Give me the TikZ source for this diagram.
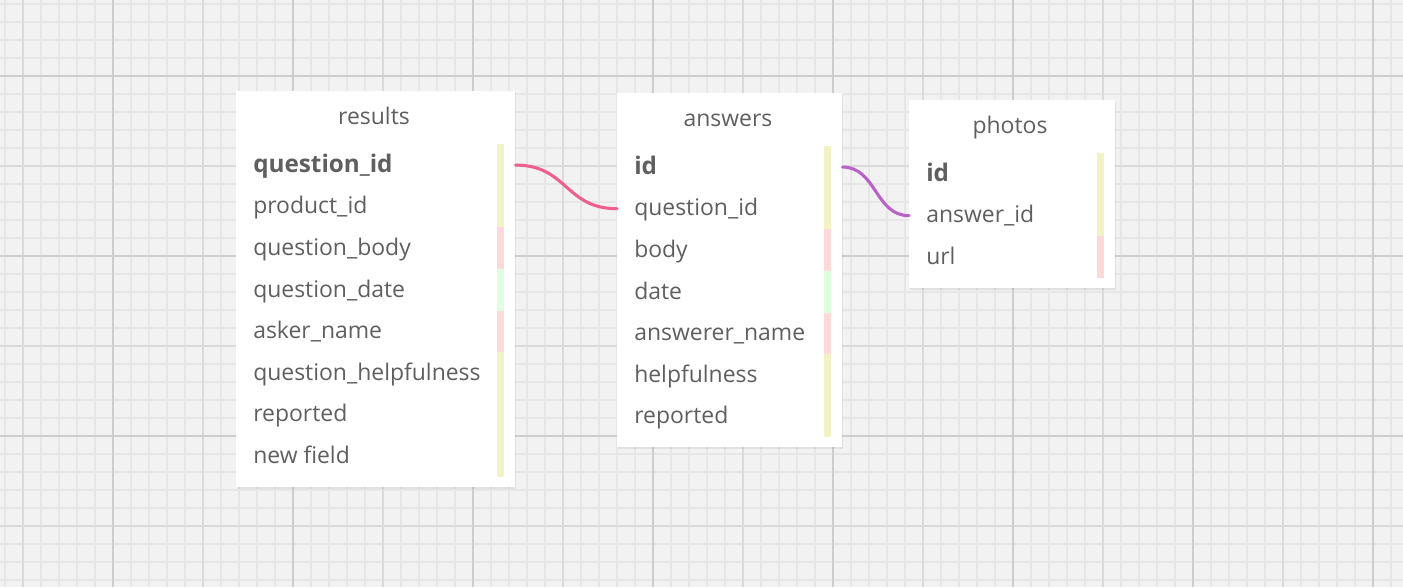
\documentclass[tikz,border=0pt]{standalone}
\usepackage{fontspec}
\setmainfont{Open Sans}
\usetikzlibrary{shadows}

\definecolor{gridbg}{HTML}{F2F2F2}
\definecolor{gridminor}{HTML}{E6E6E6}
\definecolor{gridmid}{HTML}{DADADA}
\definecolor{gridmajor}{HTML}{CDCDCD}
\definecolor{fieldtext}{HTML}{5F5F5F}
\definecolor{keyyellow}{HTML}{F3F2C4}
\definecolor{keypink}{HTML}{FFD9D9}
\definecolor{keygreen}{HTML}{DEFFDE}
\definecolor{linkpink}{HTML}{EE5F8F}
\definecolor{linkpurple}{HTML}{BA60C9}

\begin{document}
\begin{tikzpicture}[x=0.75pt, y=-0.75pt,
    tablebox/.style={fill=white, draw=none, inner sep=0pt, anchor=north west,
        drop shadow={opacity=0.15, shadow xshift=0.8pt, shadow yshift=-1.2pt}},
    tabletitle/.style={text=fieldtext, font=\fontsize{17.2}{20}\selectfont, anchor=base, inner sep=0pt},
    field/.style={text=fieldtext, font=\fontsize{17.2}{20}\selectfont, anchor=base west, inner sep=0pt},
    fieldkey/.style={field, font=\fontsize{18.2}{20}\selectfont\bfseries},
    keybar/.style={draw=none, inner sep=0pt, anchor=north west,
        minimum width=7*0.75pt, minimum height=41.6*0.75pt},
    link/.style={line width=2.3pt, line cap=round}]

    % row height of every table, in px
    \pgfmathsetmacro{\rowh}{41.6}
    % baseline of a field below the middle of its row, in px
    \pgfmathsetmacro{\basey}{7.5}

    \useasboundingbox (0,0) rectangle (1403,587);

    % Paper grid in the background: minor, middle and major lines
    \fill[gridbg] (0,0) rectangle (1403,587);
    \begin{scope}[gridminor, line width=1.2pt]
        \foreach \gx in {5,23,...,1403}
            \draw (\gx,0) -- (\gx,587);
        \foreach \gy in {4,22,...,587}
            \draw (0,\gy) -- (1403,\gy);
    \end{scope}
    \begin{scope}[gridmid, line width=1.2pt]
        \foreach \gx in {23,203,...,1403}
            \draw (\gx,0) -- (\gx,587);
        \foreach \gy in {166,346,526}
            \draw (0,\gy) -- (1403,\gy);
    \end{scope}
    \begin{scope}[gridmajor, line width=1.2pt]
        \foreach \gx in {113,293,...,1403}
            \draw (\gx,0) -- (\gx,587);
        \foreach \gy in {76,256,436}
            \draw (0,\gy) -- (1403,\gy);
    \end{scope}

    % Table: results
    \node[tablebox, minimum width=279*0.75pt, minimum height=396*0.75pt] (results) at (236,91) {};
    \node[tabletitle] (results-title) at (374,124.5) {results};
    \foreach \fname/\fcol/\fstyle [count=\i] in {
        question\_id/keyyellow/fieldkey,
        product\_id/keyyellow/field,
        question\_body/keypink/field,
        question\_date/keygreen/field,
        asker\_name/keypink/field,
        question\_helpfulness/keyyellow/field,
        reported/keyyellow/field,
        new field/keyyellow/field}
    {
        \node[keybar, fill=\fcol] (results-bar-\i) at (497,{144+(\i-1)*\rowh}) {};
        \node[\fstyle] (results-\i) at (253,{144+(\i-0.5)*\rowh+\basey}) {\fname};
    }

    % Table: answers
    \node[tablebox, minimum width=225*0.75pt, minimum height=354*0.75pt] (answers) at (617,93) {};
    \node[tabletitle] (answers-title) at (728,126.5) {answers};
    \foreach \fname/\fcol/\fstyle [count=\i] in {
        id/keyyellow/fieldkey,
        question\_id/keyyellow/field,
        body/keypink/field,
        date/keygreen/field,
        answerer\_name/keypink/field,
        helpfulness/keyyellow/field,
        reported/keyyellow/field}
    {
        \node[keybar, fill=\fcol] (answers-bar-\i) at (824,{146+(\i-1)*\rowh}) {};
        \node[\fstyle] (answers-\i) at (634,{146+(\i-0.5)*\rowh+\basey}) {\fname};
    }

    % Table: photos
    \node[tablebox, minimum width=206*0.75pt, minimum height=188*0.75pt] (photos) at (909,100) {};
    \node[tabletitle] (photos-title) at (1010,133.5) {photos};
    \foreach \fname/\fcol/\fstyle [count=\i] in {
        id/keyyellow/fieldkey,
        answer\_id/keyyellow/field,
        url/keypink/field}
    {
        \node[keybar, fill=\fcol] (photos-bar-\i) at (1097,{153+(\i-1)*\rowh}) {};
        \node[\fstyle] (photos-\i) at (926,{153+(\i-0.5)*\rowh+\basey}) {\fname};
    }

    % Relations between the tables, leaving at the middle of the field's row
    \draw[link, linkpink] (results.east |- results-bar-1) .. controls +(52,0) and +(-52,0) .. (answers.west |- answers-bar-2);
    \draw[link, linkpurple] (answers.east |- answers-bar-1) .. controls +(34,0) and +(-34,0) .. (photos.west |- photos-bar-2);

\end{tikzpicture}
\end{document}
